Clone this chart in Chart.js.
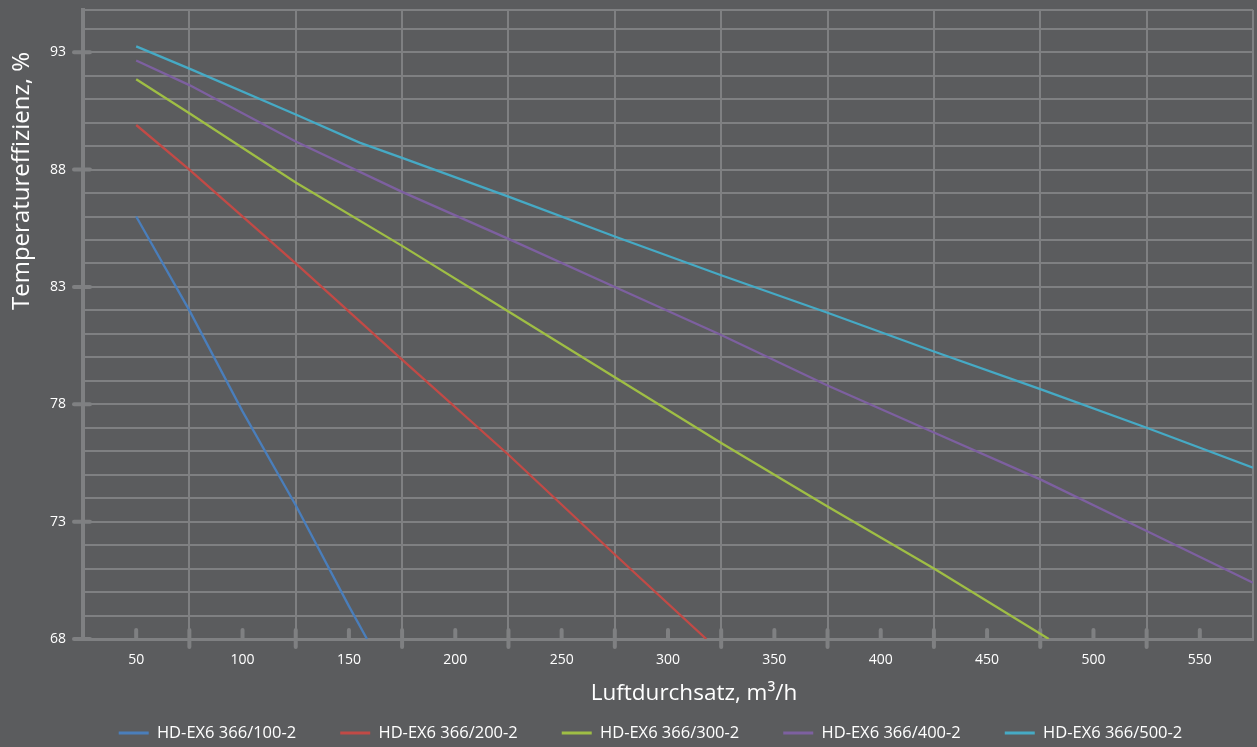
<!DOCTYPE html>
<html>
<head>
<meta charset="utf-8">
<script src="https://cdn.jsdelivr.net/npm/chart.js@4/dist/chart.umd.min.js"></script>
<style>
  html, body { margin: 0; padding: 0; background: #5b5c5e; }
  #wrap { width: 1257px; height: 747px; }
</style>
</head>
<body>
<div id="wrap"><canvas id="chart" width="1257" height="747"></canvas></div>
<script>
// Series names
const seriesNames = ['HD-EX6 366/100-2', 'HD-EX6 366/200-2', 'HD-EX6 366/300-2', 'HD-EX6 366/400-2', 'HD-EX6 366/500-2'];

// Airflow (m³/h) and temperature efficiency (%) per unit
const airflow100 = [50, 75, 100, 125, 150, 158.5];
const eff100     = [86.0, 82.0, 77.7, 73.7, 69.4, 68.0];

const airflow200 = [50, 75, 125, 175, 225, 275, 318];
const eff200     = [89.9, 88.0, 84.0, 79.9, 75.85, 71.6, 68.0];

const airflow300 = [50, 75, 125, 175, 225, 275, 325, 375, 425, 479];
const eff300     = [91.85, 90.4, 87.45, 84.75, 81.95, 79.15, 76.35, 73.65, 71.0, 68.0];

const airflow400 = [50, 75, 125, 175, 225, 275, 325, 375, 425, 475, 525, 575];
const eff400     = [92.65, 91.6, 89.2, 87.05, 85.05, 83.0, 80.95, 78.8, 76.8, 74.8, 72.6, 70.4];

const airflow500 = [50, 75, 125, 155, 175, 225, 275, 325, 375, 425, 475, 525, 575];
const eff500     = [93.25, 92.3, 90.35, 89.15, 88.5, 86.85, 85.15, 83.5, 81.9, 80.25, 78.65, 77.0, 75.3];

// Axis tick labels
const xTickLabels = [50, 100, 150, 200, 250, 300, 350, 400, 450, 500, 550];
const yTickLabels = [68, 73, 78, 83, 88, 93];

const seriesColors = ['#4a7ebb', '#c24a46', '#9fbe45', '#7d60a0', '#46aac5'];
const GRID = '#7f8082';
const TEXT = '#ffffff';
const FONT = "'Open Sans', 'Noto Sans', sans-serif";

function pairs(xs, ys) { return xs.map((x, i) => ({ x: x, y: ys[i] })); }

const allX = [airflow100, airflow200, airflow300, airflow400, airflow500];
const allY = [eff100, eff200, eff300, eff400, eff500];

const datasets = seriesNames.map((name, i) => ({
  label: name,
  data: pairs(allX[i], allY[i]),
  borderColor: seriesColors[i],
  backgroundColor: seriesColors[i],
  borderWidth: 2.3,
  pointRadius: 0,
  tension: 0,
  fill: false
}));

// Canvas background
const background = {
  id: 'background',
  beforeDraw(chart) {
    const { ctx, width, height } = chart;
    ctx.save();
    ctx.fillStyle = '#5b5c5e';
    ctx.fillRect(0, 0, width, height);
    ctx.restore();
  }
};

// Short rounded tick stubs on both axes
const axisStubs = {
  id: 'axisStubs',
  beforeDatasetsDraw(chart) {
    const { ctx, chartArea, scales } = chart;
    const x = scales.x, y = scales.y;
    const seg = (x1, y1, x2, y2) => { ctx.beginPath(); ctx.moveTo(x1, y1); ctx.lineTo(x2, y2); ctx.stroke(); };
    ctx.save();
    ctx.strokeStyle = GRID;
    ctx.lineWidth = 4;
    ctx.lineCap = 'round';
    yTickLabels.forEach(v => {
      const py = y.getPixelForValue(v);
      seg(chartArea.left - 9, py, chartArea.left + 7, py);
    });
    xTickLabels.forEach(v => {
      const px = x.getPixelForValue(v);
      seg(px, chartArea.bottom - 9, px, chartArea.bottom);
    });
    for (let v = 75; v < 575; v += 50) {
      const px = x.getPixelForValue(v);
      seg(px, chartArea.bottom - 9, px, chartArea.bottom + 8);
    }
    ctx.restore();
  }
};

// Axis titles
const axisTitles = {
  id: 'axisTitles',
  afterDraw(chart) {
    const { ctx } = chart;
    ctx.save();
    ctx.fillStyle = TEXT;
    ctx.textAlign = 'center';
    ctx.textBaseline = 'middle';
    ctx.font = "22.5px " + FONT;
    ctx.fillText('Luftdurchsatz, m³/h', 694, 694);
    ctx.font = "24px " + FONT;
    ctx.translate(22, 181);
    ctx.rotate(-Math.PI / 2);
    ctx.fillText('Temperatureffizienz, %', 0, 0);
    ctx.restore();
  }
};

// Keep the plot area edges independent of tick label overhang
function noScalePadding(scale) {
  scale.paddingTop = 0;
  scale.paddingBottom = 0;
  scale.paddingLeft = 0;
  scale.paddingRight = 0;
}

new Chart(document.getElementById('chart'), {
  type: 'line',
  data: { datasets: datasets },
  plugins: [background, axisStubs, axisTitles],
  options: {
    responsive: false,
    animation: false,
    layout: { padding: { left: 48, right: 4, top: 10, bottom: -4.25 } },
    plugins: {
      tooltip: { enabled: false },
      legend: {
        position: 'bottom',
        labels: {
          color: TEXT,
          font: { family: FONT, size: 16.5 },
          boxWidth: 30,
          boxHeight: 3,
          padding: 44,
          generateLabels(chart) {
            return Chart.defaults.plugins.legend.labels.generateLabels(chart)
              .map(item => Object.assign(item, { lineWidth: 0 }));
          }
        }
      }
    },
    scales: {
      x: {
        type: 'linear',
        min: 25,
        max: 575,
        afterBuildTicks(scale) {
          const t = [];
          for (let v = 25; v <= 575; v += 25) t.push({ value: v });
          scale.ticks = t;
        },
        afterFit(scale) { scale.height = 41.75; noScalePadding(scale); },
        ticks: {
          autoSkip: false,
          maxRotation: 0,
          padding: 13,
          color: TEXT,
          font: { family: FONT, size: 14 },
          callback: v => xTickLabels.includes(v) ? String(v) : ''
        },
        grid: {
          drawTicks: false,
          lineWidth: 2,
          color: c => {
            const v = c.tick ? c.tick.value : 0;
            return (v % 50 === 25 && v !== 25) ? GRID : 'rgba(0,0,0,0)';
          }
        },
        border: { color: GRID, width: 3 }
      },
      y: {
        type: 'linear',
        min: 68,
        max: 94.8,
        afterBuildTicks(scale) {
          const t = [];
          for (let v = 68; v <= 94; v += 1) t.push({ value: v });
          t.push({ value: 94.8 });
          scale.ticks = t;
        },
        afterFit(scale) { scale.width = 35; noScalePadding(scale); },
        ticks: {
          padding: 17,
          color: TEXT,
          font: { family: FONT, size: 14 },
          callback: v => yTickLabels.includes(v) ? String(v) : ''
        },
        grid: { drawTicks: false, lineWidth: 2, color: GRID },
        border: { color: GRID, width: 4 }
      }
    }
  }
});
</script>
</body>
</html>
